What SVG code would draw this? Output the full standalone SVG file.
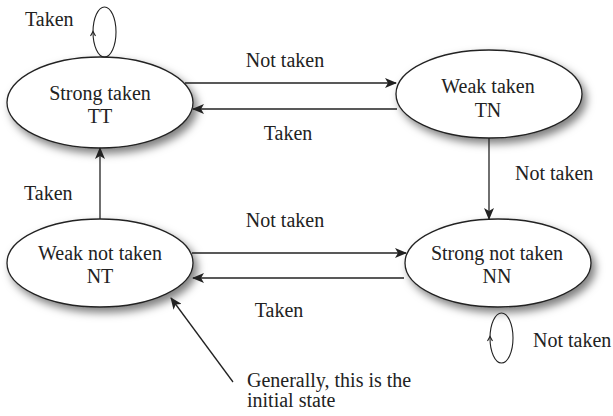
<svg xmlns="http://www.w3.org/2000/svg" width="613" height="416" viewBox="0 0 613 416">
  <style>
    text { font-family: "Liberation Serif", "Times New Roman", serif; font-size: 20px; fill: #222; }
    .state ellipse { fill: #fff; stroke: #222; stroke-width: 1.3; }
    .edge { fill: none; stroke: #222; stroke-width: 1.3; }
    .loop { fill: none; stroke: #222; stroke-width: 1.1; }
  </style>
  <defs>
    <filter id="shadow" x="-20%" y="-30%" width="150%" height="170%">
      <feDropShadow dx="4" dy="5" stdDeviation="4" flood-color="#000" flood-opacity="0.5"/>
    </filter>
    <marker id="arrow" viewBox="0 0 12 10" refX="11" refY="5" markerWidth="12" markerHeight="10" markerUnits="userSpaceOnUse" orient="auto">
      <path d="M0,0 L12,5 L0,10 L3,5 Z" fill="#222"/>
    </marker>
  </defs>

  <rect width="613" height="416" fill="#fff"/>

  <!-- states -->
  <g id="strong-taken" class="state">
    <ellipse cx="100" cy="102.5" rx="93" ry="45.5" filter="url(#shadow)"/>
    <text x="100" y="100" text-anchor="middle">Strong taken</text>
    <text x="100" y="123" text-anchor="middle">TT</text>
  </g>
  <g id="weak-taken" class="state">
    <ellipse cx="489" cy="94" rx="93" ry="44" filter="url(#shadow)"/>
    <text x="488" y="93" text-anchor="middle">Weak taken</text>
    <text x="488" y="117" text-anchor="middle">TN</text>
  </g>
  <g id="weak-not-taken" class="state">
    <ellipse cx="100" cy="263" rx="93" ry="44" filter="url(#shadow)"/>
    <text x="100" y="260" text-anchor="middle">Weak not taken</text>
    <text x="100" y="283" text-anchor="middle">NT</text>
  </g>
  <g id="strong-not-taken" class="state">
    <ellipse cx="498" cy="263" rx="93" ry="44" filter="url(#shadow)"/>
    <text x="497" y="260" text-anchor="middle">Strong not taken</text>
    <text x="497" y="283" text-anchor="middle">NN</text>
  </g>

  <!-- transitions -->
  <g id="connectors">
    <line class="edge" x1="185" y1="83" x2="396" y2="83" marker-end="url(#arrow)"/>
    <line class="edge" x1="397" y1="109" x2="193" y2="109" marker-end="url(#arrow)"/>
    <line class="edge" x1="489" y1="138" x2="489" y2="219" marker-end="url(#arrow)"/>
    <line class="edge" x1="100" y1="219" x2="100" y2="148" marker-end="url(#arrow)"/>
    <line class="edge" x1="192" y1="253" x2="406" y2="253" marker-end="url(#arrow)"/>
    <line class="edge" x1="404" y1="278" x2="193" y2="278" marker-end="url(#arrow)"/>
    <line class="edge" x1="233" y1="382" x2="171" y2="298" marker-end="url(#arrow)"/>

    <!-- self loops -->
    <ellipse class="loop" cx="104.5" cy="32" rx="11.5" ry="25"/>
    <path class="loop" d="M90.5,36 L93,31.5 L95.5,36"/>
    <ellipse class="loop" cx="501.5" cy="338" rx="11.5" ry="25"/>
    <path class="loop" d="M487.5,341 L490,336.5 L492.5,341"/>
  </g>

  <!-- labels -->
  <g id="labels">
    <text x="285" y="67" text-anchor="middle">Not taken</text>
    <text x="288" y="140" text-anchor="middle">Taken</text>
    <text x="25" y="26">Taken</text>
    <text x="515" y="180">Not taken</text>
    <text x="24" y="200">Taken</text>
    <text x="285" y="227" text-anchor="middle">Not taken</text>
    <text x="279" y="317" text-anchor="middle">Taken</text>
    <text x="533" y="347">Not taken</text>
    <text x="247" y="387" font-size="19">Generally, this is the</text>
    <text x="247" y="407" font-size="19">initial state</text>
  </g>
</svg>
